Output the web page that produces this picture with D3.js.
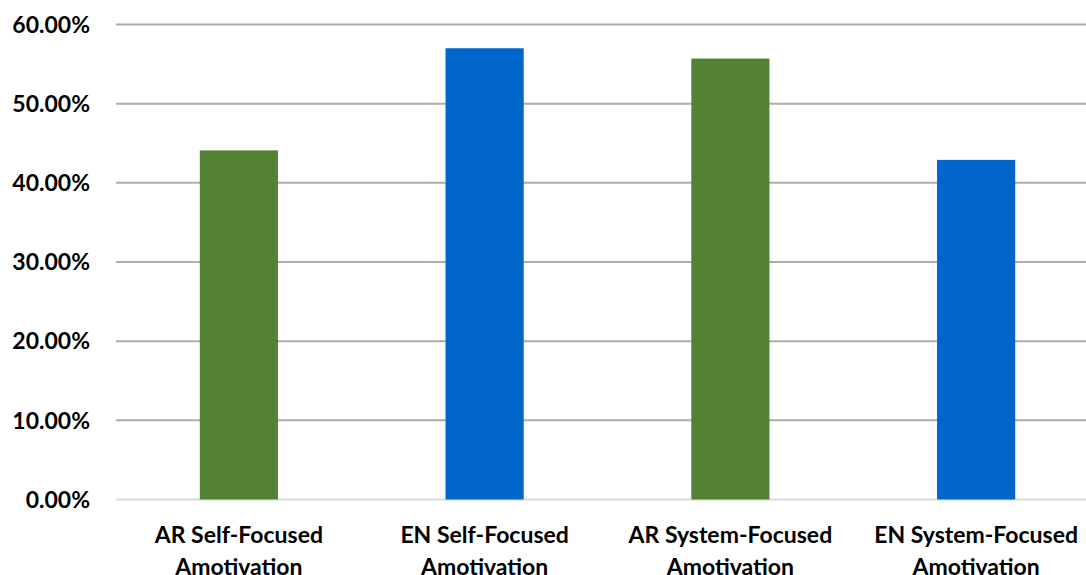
<!DOCTYPE html>
<html><head><meta charset="utf-8">
<script src="https://cdn.jsdelivr.net/npm/d3@7"></script>
<style>body{margin:0;background:#fff;}svg{display:block;}</style>
</head><body>
<svg id="c" width="1086" height="575"></svg>
<script>
const categories = [["AR Self-Focused","Amotivation"],["EN Self-Focused","Amotivation"],["AR System-Focused","Amotivation"],["EN System-Focused","Amotivation"]];
const values = [0.441, 0.570, 0.557, 0.429];
const colors = ["#548235","#0066CC","#548235","#0066CC"];
const yTicks = [0,0.1,0.2,0.3,0.4,0.5,0.6];

const svg = d3.select("#c");
const font = "Lato, 'Open Sans', sans-serif";
const x = d3.scaleBand().domain(d3.range(categories.length)).range([116, 1099]).paddingInner(0.682).paddingOuter(0.341);
const y = d3.scaleLinear().domain([0,0.6]).range([499.5, 24.5]);

svg.append("g").selectAll("line").data(yTicks).join("line")
  .attr("x1",116).attr("x2",1086)
  .attr("y1",d=>y(d)).attr("y2",d=>y(d))
  .attr("stroke",d=>d===0?"#d9d9d9":"#b0acac").attr("stroke-width",2);

svg.append("g").selectAll("rect").data(values).join("rect")
  .attr("x",(d,i)=>x(i)).attr("width",x.bandwidth())
  .attr("y",d=>y(d)).attr("height",d=>y(0)-y(d))
  .attr("fill",(d,i)=>colors[i]);

svg.append("g").selectAll("text").data(yTicks).join("text")
  .attr("x",90).attr("y",d=>y(d)).attr("dy","0.36em")
  .attr("text-anchor","end").attr("font-family",font).attr("font-weight","bold")
  .attr("font-size",23).attr("fill","#000")
  .text(d=>d3.format(".2%")(d));

const lab = svg.append("g").selectAll("text").data(categories).join("text")
  .attr("text-anchor","middle").attr("font-family",font).attr("font-weight","bold")
  .attr("font-size",23).attr("fill","#000");
lab.each(function(d,i){
  const t=d3.select(this);
  d.forEach((line,j)=>{
    t.append("tspan").attr("x",x(i)+x.bandwidth()/2).attr("y",543+j*32).text(line);
  });
});
</script>
</body></html>
